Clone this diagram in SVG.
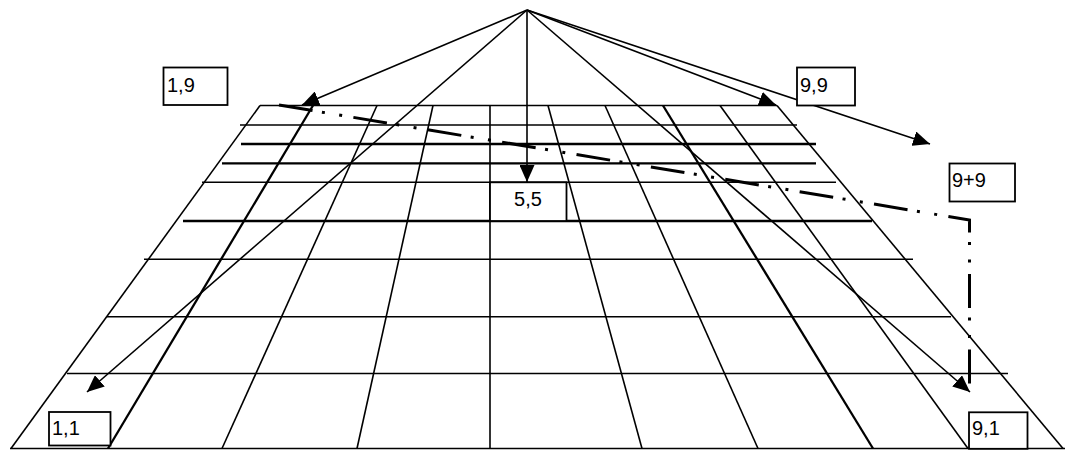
<svg xmlns="http://www.w3.org/2000/svg" width="1067" height="451" viewBox="0 0 1067 451">
<style>
.g{stroke:#000;stroke-width:1.6;fill:none}
.gt{stroke:#000;stroke-width:2.3;fill:none}
.a{stroke:#000;stroke-width:1.6;fill:none;marker-end:url(#ah)}
.dd{stroke:#000;stroke-width:3;fill:none;stroke-dasharray:34 9.5 3 14.5 3 11.4}
.box{fill:#fff;stroke:#000;stroke-width:1.8}
.t{font-family:"Liberation Sans",Arial,sans-serif;font-size:20px;fill:#000}
</style>
<defs>
<marker id="ah" markerUnits="userSpaceOnUse" markerWidth="17" markerHeight="15" refX="17" refY="7.5" orient="auto">
<path d="M0,0 L17,7.5 L0,15 z" fill="#000"/>
</marker>
</defs>
<rect width="1067" height="451" fill="#fff"/>
<g id="grid">
<line class="g" x1="260" y1="105.5" x2="777" y2="105.5"/>
<line class="g" x1="240" y1="125" x2="797" y2="125"/>
<line class="gt" x1="241" y1="144" x2="816" y2="144"/>
<line class="gt" x1="222" y1="163.3" x2="816" y2="163.3"/>
<line class="g" x1="202" y1="182.3" x2="836" y2="182.3"/>
<line class="gt" x1="183" y1="221" x2="872" y2="221"/>
<line class="g" x1="144" y1="259.3" x2="913" y2="259.3"/>
<line class="g" x1="107" y1="316.7" x2="951" y2="316.7"/>
<line class="g" x1="67" y1="373.5" x2="1008" y2="373.5"/>
<line class="g" x1="10" y1="448.5" x2="1065" y2="448.5"/>
<line class="g" x1="260" y1="105.5" x2="11" y2="448.5"/>
<line class="gt" x1="313" y1="105.5" x2="108" y2="448.5"/>
<line class="g" x1="377" y1="105.5" x2="222" y2="448.5"/>
<line class="g" x1="433" y1="105.5" x2="357" y2="448.5"/>
<line class="g" x1="490" y1="105.5" x2="490" y2="448.5"/>
<line class="g" x1="548" y1="105.5" x2="642" y2="448.5"/>
<line class="g" x1="605" y1="105.5" x2="758" y2="448.5"/>
<line class="gt" x1="663" y1="105.5" x2="873" y2="448.5"/>
<line class="g" x1="720" y1="105.5" x2="968" y2="448.5"/>
<line class="g" x1="777" y1="105.5" x2="1063" y2="448.5"/>
</g>
<g id="connectors">
<line class="a" x1="527" y1="10" x2="302" y2="105"/>
<line class="a" x1="527" y1="10" x2="527" y2="182"/>
<line class="a" x1="527" y1="10" x2="87" y2="392"/>
<line class="a" x1="527" y1="10" x2="776" y2="105"/>
<line class="a" x1="527" y1="10" x2="930" y2="144"/>
<line class="a" x1="527" y1="10" x2="970" y2="392"/>
<path class="dd" d="M279,105 L969.5,220 L969.5,392"/>
</g>
<g id="n19">
<rect class="box" x="163.5" y="67.5" width="64" height="37.5"/>
<text class="t" x="167" y="92">1,9</text>
</g>
<g id="n99">
<rect class="box" x="797" y="67.5" width="58" height="38"/>
<text class="t" x="800" y="92">9,9</text>
</g>
<g id="n9p9">
<rect class="box" x="949.5" y="163.5" width="65.5" height="38"/>
<text class="t" x="952" y="187">9+9</text>
</g>
<g id="n55">
<rect class="box" x="490" y="182.3" width="76.5" height="38.7"/>
<text class="t" x="528" y="206" text-anchor="middle">5,5</text>
</g>
<g id="n11">
<rect class="box" x="49" y="412" width="61.5" height="33.5"/>
<text class="t" x="52" y="435">1,1</text>
</g>
<g id="n91">
<rect class="box" x="969" y="412.3" width="58.5" height="36.5"/>
<text class="t" x="972" y="435">9,1</text>
</g>
</svg>
